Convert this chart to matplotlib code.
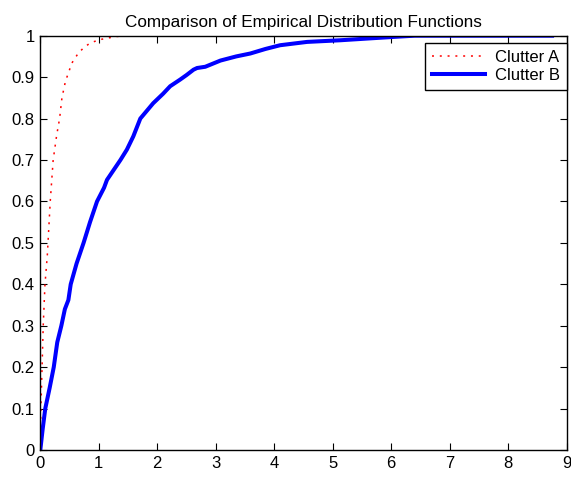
import matplotlib
matplotlib.use("Agg")
import matplotlib.pyplot as plt

plt.rcParams['font.family'] = ['Liberation Sans', 'DejaVu Sans']

# Empirical CDF of clutter A (x values and cumulative probability)
clutter_a_x = [0.0, 0.003, 0.01, 0.03, 0.05, 0.08, 0.12, 0.17, 0.22, 0.28, 0.33,
               0.37, 0.43, 0.54, 0.65, 0.75, 0.85, 1.0, 1.14, 1.3, 1.48]
clutter_a_y = [0.0, 0.05, 0.1, 0.2, 0.3, 0.4, 0.47, 0.6, 0.7, 0.76, 0.8,
               0.85, 0.89, 0.934, 0.958, 0.972, 0.982, 0.99, 0.994, 0.998, 1.0]

# Empirical CDF of clutter B
clutter_b_x = [0.0, 0.04, 0.085, 0.16, 0.23, 0.29, 0.36, 0.42, 0.48, 0.52, 0.62,
               0.74, 0.85, 0.97, 1.09, 1.14, 1.25, 1.37, 1.48, 1.59, 1.71,
               1.93, 2.1, 2.22, 2.39, 2.5, 2.62, 2.68, 2.82, 3.08, 3.35, 3.59,
               3.85, 4.1, 4.56, 5.13, 5.69, 6.15, 6.4, 8.75]
clutter_b_y = [0.0, 0.05, 0.1, 0.15, 0.2, 0.26, 0.3, 0.34, 0.362, 0.4, 0.45,
               0.5, 0.55, 0.6, 0.633, 0.652, 0.675, 0.7, 0.725, 0.757, 0.8,
               0.837, 0.86, 0.878, 0.894, 0.905, 0.918, 0.922, 0.925, 0.94, 0.95, 0.957,
               0.968, 0.977, 0.985, 0.989, 0.994, 0.998, 1.0, 1.0]

xticks = list(range(0, 10))
yticks = [0, 0.1, 0.2, 0.3, 0.4, 0.5, 0.6, 0.7, 0.8, 0.9, 1]
ytick_labels = ['0', '0.1', '0.2', '0.3', '0.4', '0.5', '0.6', '0.7', '0.8', '0.9', '1']

fig = plt.figure(figsize=(5.71, 4.78), dpi=100)
ax = fig.add_axes([40.3 / 571, 28 / 478, 526.4 / 571, 414.3 / 478])

ax.plot(clutter_a_x, clutter_a_y, color='#ff0000', linestyle=(0, (1.3, 3.8)),
        linewidth=1.1, label='Clutter A')
ax.plot(clutter_b_x, clutter_b_y, color='#0000ff', linestyle='-',
        linewidth=2.9, label='Clutter B')

ax.set_xlim(0, 9)
ax.set_ylim(0, 1)
ax.set_xticks(xticks)
ax.set_yticks(yticks)
ax.set_yticklabels(ytick_labels)
ax.tick_params(direction='in', length=5, width=0.8, top=True, right=True,
               labelsize=12, colors='black', pad=4)
for s in ax.spines.values():
    s.set_linewidth(1.0)
    s.set_color('black')

ax.set_title('Comparison of Empirical Distribution Functions', fontsize=12.3, pad=6)

leg = ax.legend(loc='upper right', bbox_to_anchor=(566.7 / 571, 1 - 43 / 478),
                bbox_transform=fig.transFigure, borderaxespad=0, fontsize=12,
                handlelength=3.2, handletextpad=0.6, borderpad=0.4,
                labelspacing=0.2, fancybox=False, framealpha=1,
                edgecolor='black')
leg.get_frame().set_linewidth(1.0)

fig.savefig('out.png', dpi=100)
